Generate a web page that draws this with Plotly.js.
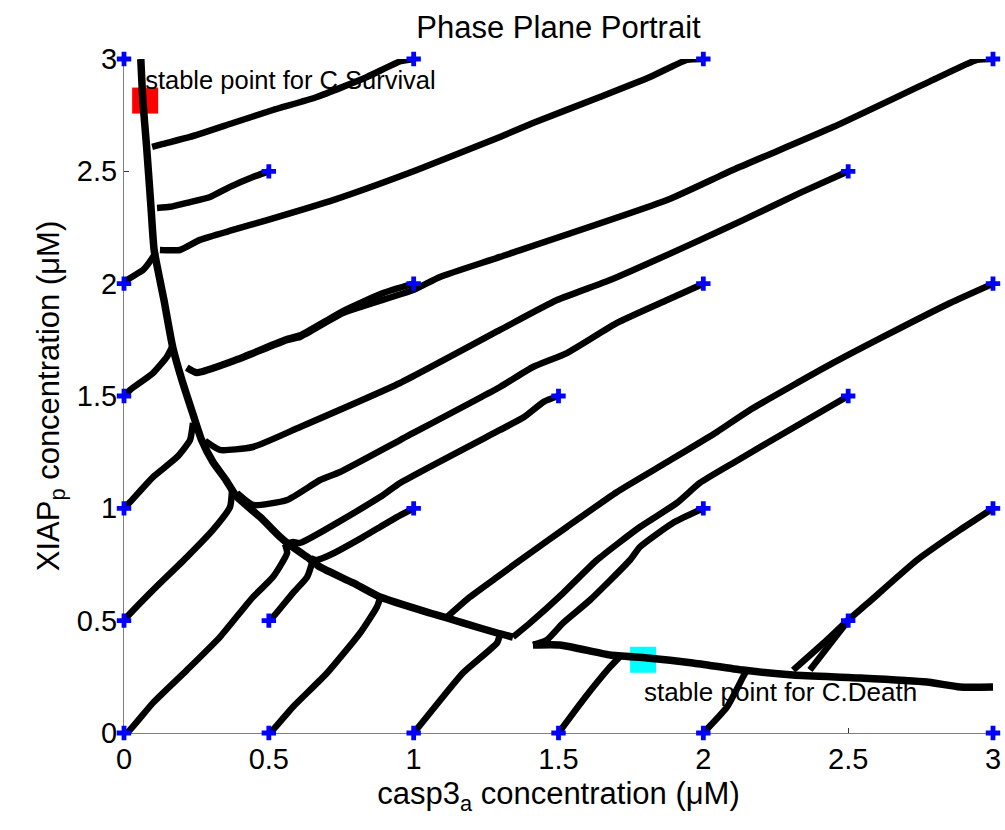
<!DOCTYPE html>
<html>
<head>
<meta charset="utf-8">
<script src="https://cdn.plot.ly/plotly-3.0.1.min.js"></script>
<style>html,body{margin:0;padding:0;background:#fff;}#chart{width:1005px;height:830px;}</style>
</head>
<body>
<div id="chart"></div>
<script>
// ---- Data (µM) ----
const tickVals = [0, 0.5, 1, 1.5, 2, 2.5, 3];
const tickText = ['0', '0.5', '1', '1.5', '2', '2.5', '3'];

// initial conditions (blue crosses)
const startX = [0, 1, 2, 3, 0.5, 2.5, 0, 1, 2, 3, 0, 1.5, 2.5, 0, 1, 2, 3, 0, 0.5, 2.5, 0, 0.5, 1, 1.5, 2, 3];
const startY = [3, 3, 3, 3, 2.5, 2.5, 2, 2, 2, 2, 1.5, 1.5, 1.5, 1, 1, 1, 1, 0.5, 0.5, 0.5, 0, 0, 0, 0, 0, 0];

// stable points
const survivalX = [0.073], survivalY = [2.815];
const deathX = [1.792], deathY = [0.326];
const survivalLabel = 'stable point for C.Survival';
const deathLabel = 'stable point for C.Death';

// main attracting curve (upper and lower parts)
const curveUpX = [0.058, 0.065, 0.078, 0.093, 0.104, 0.124, 0.138, 0.168, 0.200, 0.237, 0.268, 0.307, 0.352, 0.389, 0.470, 0.539, 0.563, 0.632, 0.677, 0.791, 0.884, 1.056, 1.115, 1.170, 1.288, 1.343];
const curveUpY = [3.0, 2.818, 2.610, 2.343, 2.150, 2.016, 1.927, 1.719, 1.571, 1.424, 1.304, 1.206, 1.126, 1.052, 0.961, 0.872, 0.846, 0.783, 0.739, 0.668, 0.605, 0.534, 0.512, 0.490, 0.445, 0.427];
const curveLowX = [1.412, 1.505, 1.678, 1.806, 1.964, 2.137, 2.310, 2.541, 2.772, 2.886, 3.0];
const curveLowY = [0.392, 0.392, 0.347, 0.334, 0.312, 0.280, 0.258, 0.245, 0.227, 0.205, 0.205];

// trajectories
const t01x = [1.0, 0.955, 0.839, 0.666, 0.514, 0.376, 0.228, 0.135, 0.097];
const t01y = [3.0, 2.99, 2.920, 2.831, 2.773, 2.715, 2.653, 2.622, 2.609];
const t02x = [0.5, 0.445, 0.366, 0.297, 0.217, 0.159, 0.114];
const t02y = [2.5, 2.475, 2.431, 2.386, 2.360, 2.342, 2.337];
const t03x = [2.0, 1.944, 1.816, 1.643, 1.412, 1.298, 1.011, 0.722, 0.494, 0.376, 0.262, 0.193, 0.124];
const t03y = [3.0, 2.996, 2.920, 2.831, 2.715, 2.653, 2.506, 2.372, 2.283, 2.239, 2.195, 2.150, 2.150];
const t04x = [0, 0.01, 0.066, 0.100, 0.110];
const t04y = [2.0, 2.016, 2.061, 2.119, 2.141];
const t05x = [3.0, 2.945, 2.793, 2.448, 2.102, 1.875, 1.298, 1.091, 0.998, 0.756, 0.608, 0.563, 0.390, 0.252, 0.217];
const t05y = [3.0, 2.996, 2.907, 2.697, 2.506, 2.372, 2.119, 2.030, 1.972, 1.869, 1.763, 1.749, 1.660, 1.602, 1.625];
const t06x = [1.0, 0.894, 0.756, 0.608, 0.563, 0.390, 0.252, 0.217];
const t06y = [2.0, 1.958, 1.878, 1.770, 1.754, 1.664, 1.606, 1.627];
const t07x = [0, 0.021, 0.100, 0.148, 0.166];
const t07y = [1.5, 1.527, 1.602, 1.674, 1.718];
const t08x = [2.5, 2.334, 2.137, 1.988, 1.678, 1.495, 1.298, 0.953, 0.608, 0.445, 0.331, 0.280];
const t08y = [2.5, 2.404, 2.283, 2.194, 2.016, 1.927, 1.794, 1.558, 1.362, 1.273, 1.260, 1.300];
const t09x = [0, 0.021, 0.100, 0.183, 0.228, 0.238];
const t09y = [1.0, 1.028, 1.139, 1.228, 1.304, 1.380];
const t10x = [2.0, 1.875, 1.702, 1.529, 1.412, 1.298, 0.953, 0.746, 0.677, 0.563, 0.445, 0.390];
const t10y = [2.0, 1.927, 1.825, 1.691, 1.629, 1.540, 1.304, 1.162, 1.126, 1.037, 1.015, 1.068];
const t11x = [1.5, 1.450, 1.380, 1.298, 0.953, 0.884, 0.608, 0.583, 0.556];
const t11y = [1.5, 1.475, 1.405, 1.349, 1.113, 1.050, 0.846, 0.850, 0.840];
const t12x = [1.0, 0.942, 0.884, 0.825, 0.711, 0.666, 0.645];
const t12y = [1.0, 0.961, 0.917, 0.872, 0.792, 0.770, 0.778];
const t13x = [3.0, 2.852, 2.620, 2.448, 2.161, 2.047, 1.875, 1.702, 1.529, 1.402, 1.288, 1.194, 1.115];
const t13y = [2.0, 1.914, 1.763, 1.647, 1.438, 1.340, 1.206, 1.073, 0.917, 0.801, 0.694, 0.605, 0.516];
const t14x = [2.5, 2.220, 2.103, 1.988, 1.909, 1.781, 1.633, 1.516, 1.402, 1.343];
const t14y = [1.5, 1.291, 1.202, 1.113, 1.024, 0.917, 0.770, 0.623, 0.490, 0.427];
const t15x = [2.0, 1.895, 1.781, 1.747, 1.609, 1.516, 1.460, 1.412];
const t15y = [1.0, 0.935, 0.828, 0.770, 0.592, 0.490, 0.414, 0.392];
const t16x = [3.0, 2.886, 2.738, 2.565, 2.5, 2.427, 2.310];
const t16y = [1.0, 0.904, 0.770, 0.575, 0.503, 0.414, 0.280];
const t17x = [2.5, 2.44, 2.368];
const t17y = [0.5, 0.40, 0.280];
const t18x = [0, 0.01, 0.100, 0.217, 0.307, 0.366, 0.373];
const t18y = [0.5, 0.516, 0.636, 0.783, 0.904, 1.006, 1.082];
const t19x = [0, 0.01, 0.100, 0.217, 0.331, 0.445, 0.514, 0.563, 0.556];
const t19y = [0, 0.0, 0.134, 0.280, 0.427, 0.605, 0.694, 0.801, 0.840];
const t20x = [0.5, 0.514, 0.583, 0.632, 0.649, 0.652];
const t20y = [0.5, 0.516, 0.623, 0.694, 0.757, 0.775];
const t21x = [0.5, 0.504, 0.583, 0.701, 0.815, 0.873, 0.884];
const t21y = [0, 0.0, 0.116, 0.267, 0.445, 0.561, 0.600];
const t22x = [1.0, 1.056, 1.170, 1.288, 1.298];
const t22y = [0, 0.089, 0.267, 0.401, 0.440];
const t23x = [1.5, 1.585, 1.678, 1.712];
const t23y = [0, 0.147, 0.294, 0.340];
const t24x = [2.0, 2.082, 2.137, 2.150];
const t24y = [0, 0.116, 0.249, 0.280];

const trajX = [t01x, t02x, t03x, t04x, t05x, t06x, t07x, t08x, t09x, t10x, t11x, t12x, t13x, t14x, t15x, t16x, t17x, t18x, t19x, t20x, t21x, t22x, t23x, t24x];
const trajY = [t01y, t02y, t03y, t04y, t05y, t06y, t07y, t08y, t09y, t10y, t11y, t12y, t13y, t14y, t15y, t16y, t17y, t18y, t19y, t20y, t21y, t22y, t23y, t24y];

// ---- Traces ----
const FONT = 'Liberation Sans, Arial, Helvetica, sans-serif';
const traces = [];

traces.push({x: survivalX, y: survivalY, mode: 'markers', type: 'scatter', cliponaxis: false, hoverinfo: 'skip',
  marker: {symbol: 'square', size: 26, color: '#ff0000'}});
traces.push({x: deathX, y: deathY, mode: 'markers', type: 'scatter', cliponaxis: false, hoverinfo: 'skip',
  marker: {symbol: 'square', size: 26, color: '#00ffff'}});

traces.push({x: survivalX, y: [2.893], mode: 'text', type: 'scatter', text: [survivalLabel], cliponaxis: false,
  textposition: 'middle right', textfont: {family: FONT, size: 25.5, color: '#000'}, hoverinfo: 'skip'});
traces.push({x: [1.795], y: [0.170], mode: 'text', type: 'scatter', text: [deathLabel], cliponaxis: false,
  textposition: 'middle right', textfont: {family: FONT, size: 26, color: '#000'}, hoverinfo: 'skip'});

for (let i = 0; i < trajX.length; i++) {
  traces.push({x: trajX[i], y: trajY[i], mode: 'lines', type: 'scatter', cliponaxis: false, hoverinfo: 'skip',
    line: {color: '#000', width: 6.5, shape: 'spline', smoothing: 0.5}});
}
traces.push({x: curveUpX, y: curveUpY, mode: 'lines', type: 'scatter', cliponaxis: false, hoverinfo: 'skip',
  line: {color: '#000', width: 7.5, shape: 'spline', smoothing: 0.5}});
traces.push({x: curveLowX, y: curveLowY, mode: 'lines', type: 'scatter', cliponaxis: false, hoverinfo: 'skip',
  line: {color: '#000', width: 7.5, shape: 'spline', smoothing: 0.5}});

traces.push({x: startX, y: startY, mode: 'markers', type: 'scatter', cliponaxis: false, hoverinfo: 'skip',
  marker: {symbol: 'cross', size: 12, color: '#0000ff', line: {width: 0}}});

const axisCommon = {
  range: [0, 3], tickvals: tickVals, ticktext: tickText, ticks: 'inside', ticklen: 5, tickwidth: 1,
  tickcolor: '#333', showline: true, linecolor: '#808080', linewidth: 1, mirror: false,
  showgrid: false, zeroline: false, layer: 'below traces',
  tickfont: {family: FONT, size: 29, color: '#000'}, fixedrange: true
};

const layout = {
  width: 1005, height: 830,
  margin: {l: 124, r: 12, t: 59, b: 97, pad: 0},
  paper_bgcolor: '#fff', plot_bgcolor: '#fff',
  showlegend: false,
  font: {family: FONT, color: '#000'},
  title: {text: 'Phase Plane Portrait', x: 0.5, xref: 'paper', y: 0.9675, yref: 'container', yanchor: 'middle',
    font: {family: FONT, size: 31, color: '#000'}},
  xaxis: Object.assign({}, axisCommon, {
    title: {text: 'casp3<sub>a</sub> concentration (μM)', font: {family: FONT, size: 31, color: '#000'}, standoff: 8}
  }),
  yaxis: Object.assign({}, axisCommon, {
    title: {text: 'XIAP<sub>p</sub> concentration (μM)', font: {family: FONT, size: 31, color: '#000'}, standoff: 8}
  })
};

Plotly.newPlot('chart', traces, layout, {staticPlot: true, displayModeBar: false});
</script>
</body>
</html>
